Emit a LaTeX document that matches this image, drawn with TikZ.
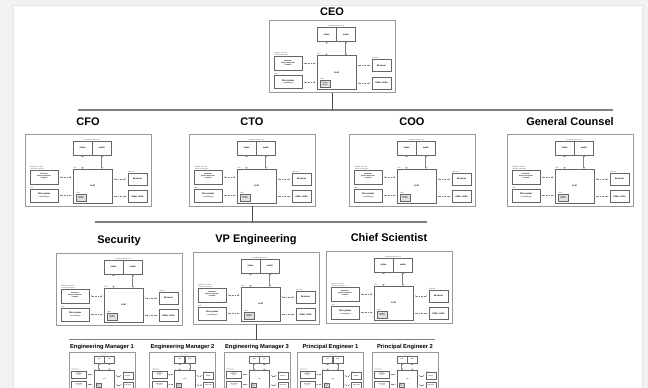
\documentclass[tikz,border=0pt]{standalone}
\usepackage{fontspec}
\setmainfont{Liberation Sans}
\usetikzlibrary{positioning,arrows.meta}
\def\tn{\fontsize{1.6}{1.9}\selectfont}
\def\bn{\fontsize{2.2}{2.6}\selectfont\bfseries}
\tikzset{
  orgbox/.style={draw=black!40, fill=white, line width=0.8pt, minimum width=126pt, minimum height=72pt, inner sep=0pt},
  subbox/.style={orgbox, line width=0.6pt, minimum width=66pt, minimum height=38pt},
  title/.style={font=\fontsize{11}{12}\selectfont\bfseries, inner sep=0pt, text height=8pt, text depth=2pt},
  subtitle/.style={font=\fontsize{5.8}{6}\selectfont\bfseries, inner sep=0pt, text height=4.2pt, text depth=1.2pt},
  part/.style={draw=black!60, line width=0.3pt, fill=white, inner sep=0pt, align=center, font=\bn},
  lab/.style={font=\tn, inner sep=0.2pt, align=left, text=black!70},
  link/.style={black!50, line width=0.4pt, dash pattern=on 1pt off 0.6pt, {Latex[length=1pt,width=1.2pt]}-{Latex[length=1pt,width=1.2pt]}, shorten <=1.5pt, shorten >=1.5pt},
  io/.style={black!50, line width=0.45pt, double=white, double distance=0.7pt, {Latex[length=1.6pt,width=2.4pt]}-{Latex[length=1.6pt,width=2.4pt]}},
  bus/.style={black!50, line width=1.3pt},
  drop/.style={black!70, line width=1pt},
  llmos/.pic={
    \node[part, minimum width=39pt, minimum height=34pt] (-llm) at (4.5,16) {LLM};
    \node[part, minimum width=19pt, minimum height=14pt] (-video) at (-5.5,-22) {video};
    \node[part, minimum width=19pt, minimum height=14pt] (-audio) at (14,-22) {audio};
    \node[part, minimum width=28pt, minimum height=14pt, font=\tn\bfseries] (-tools) at (-44,7) {Calculator\\Python interpreter\\Terminal\\...};
    \node[part, minimum width=28pt, minimum height=13pt] (-files) at (-44,25.5) {File system\\{\tn\mdseries (+embeddings)}};
    \node[part, minimum width=19pt, minimum height=12pt] (-browser) at (49.5,9) {Browser};
    \node[part, minimum width=19pt, minimum height=12pt] (-others) at (49.5,26.5) {Other LLMs};
    \node[part, minimum width=10pt, minimum height=7pt, fill=black!12, font=\tn] (-ctx) at (-7,27.5) {context\\window};
    \node[lab, anchor=south] (-lper) at (-video.north east) {Peripheral devices I/O};
    \node[lab, anchor=south west] (-lcpu) at (-llm.north west) {CPU};
    \node[lab, anchor=south west] (-lram) at (-ctx.north west) {RAM};
    \node[lab, anchor=south west] (-lsw) at (-tools.north west) {Software 1.0 tools\\``classical computer''};
    \node[lab, anchor=south west] (-ldisk) at (-files.north west) {Disk};
    \node[lab, anchor=south west] (-leth) at (-browser.north west) {Ethernet};
    \draw[io] (-video.south) -- (-video.south |- -llm.north);
    \draw[io] (-audio.south) -- (-audio.south |- -llm.north);
    \foreach \a in {tools,files} \draw[link] (-\a.east) -- (-\a.east -| -llm.west);
    \foreach \a in {browser,others} \draw[link] (-\a.west) -- (-\a.west -| -llm.east);
  }
}

\begin{document}
\begin{tikzpicture}[x=1pt,y=-1pt]
\useasboundingbox (0,0) rectangle (648,388);
\clip (0,0) rectangle (648,388);
\fill[black!5] (0,0) rectangle (648,388);
\filldraw[fill=white, draw=black!10] (13,5) rectangle (642,400);

\foreach \nm/\x/\y/\g/\t in {ceo/332/56.5/2/CEO, cfo/88/170/6/CFO, cto/252/170/6/CTO, coo/412/170/6/COO, gc/570/170/6/General Counsel, sec/119/289/7/Security, vpe/256/288/7/VP Engineering, cs/389/287/7/Chief Scientist}{
  \node[orgbox] (\nm) at (\x,\y) {};
  \node[title, above=\g pt of \nm] (\nm-t) {\t};
  \pic (\nm) at (\x,\y) {llmos};
}

\foreach \nm/\x/\t in {em1/102/Engineering Manager 1, em2/182.5/Engineering Manager 2, em3/257/Engineering Manager 3, pe1/330.5/Principal Engineer 1, pe2/405/Principal Engineer 2}{
  \node[subbox] (\nm) at (\x,371) {};
  \node[subtitle, above=2pt of \nm] (\nm-t) {\t};
  \pic[scale=0.524, transform shape] (\nm) at (\x,371) {llmos};
}

\coordinate (b1l) at (78,110);   \coordinate (b1r) at (613,110);
\coordinate (b2l) at (95,222);   \coordinate (b2r) at (427,222);
\coordinate (b3l) at (69,339.5); \coordinate (b3r) at (435,339.5);
\draw[bus] (b1l) -- (b1r);
\draw[bus] (b2l) -- (b2r);
\draw[bus] (b3l) -- (b3r);
\draw[drop] (ceo.south) -- (ceo.south |- b1l);
\draw[drop] (cto.south) -- (cto.south |- b2l);
\draw[drop] (vpe.south) -- (vpe.south |- b3l);
\end{tikzpicture}
\end{document}
